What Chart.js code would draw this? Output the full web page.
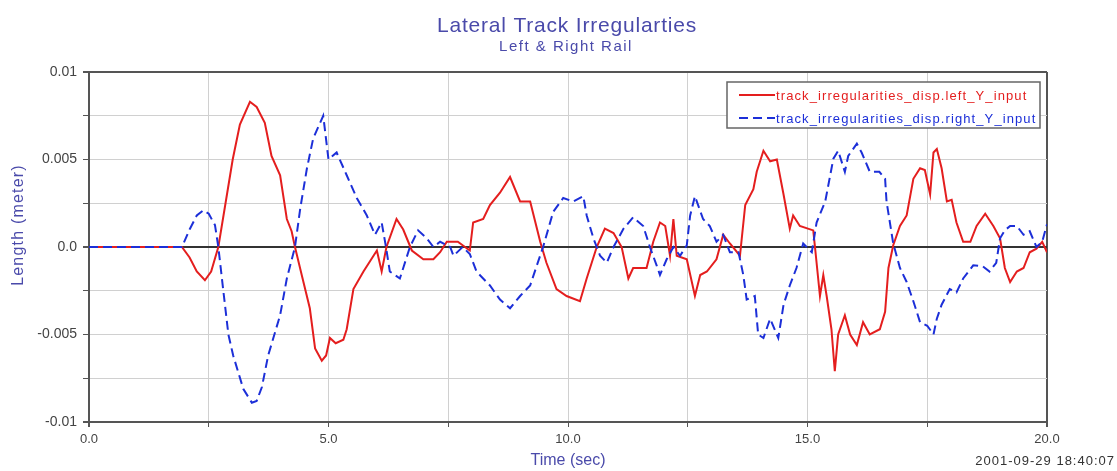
<!DOCTYPE html>
<html>
<head>
<meta charset="utf-8">
<script src="https://cdn.jsdelivr.net/npm/chart.js@4.4.1/dist/chart.umd.min.js"></script>
<style>
  html, body { margin: 0; padding: 0; background: #fff; }
  #wrap { width: 1117px; height: 471px; }
</style>
</head>
<body>
<div id="wrap"><canvas id="trackChart"></canvas></div>
<script>
// time (sec) / lateral displacement (meter)
const leftTime = [0, 1.94, 2.1, 2.25, 2.42, 2.55, 2.7, 2.85, 3.0, 3.15, 3.36, 3.5, 3.67, 3.81, 3.99, 4.13, 4.23, 4.3, 4.45, 4.61,
  4.72, 4.86, 4.95, 5.03, 5.15, 5.31, 5.38, 5.52, 5.73, 5.94, 6.01, 6.11, 6.21, 6.42, 6.56, 6.74, 6.98, 7.19, 7.33, 7.47,
  7.7, 7.95, 8.02, 8.23, 8.37, 8.58, 8.79, 9.0, 9.21, 9.42, 9.55, 9.76, 9.97, 10.25, 10.39, 10.6, 10.77, 10.95, 11.12, 11.26,
  11.36, 11.64, 11.78, 11.92, 12.03, 12.13, 12.2, 12.27, 12.48, 12.65, 12.76, 12.9, 13.1, 13.24, 13.38, 13.59, 13.7, 13.87, 13.94, 14.08,
  14.22, 14.36, 14.5, 14.63, 14.7, 14.84, 15.12, 15.16, 15.26, 15.33, 15.4, 15.5, 15.57, 15.64, 15.78, 15.89, 16.03, 16.16, 16.3, 16.51,
  16.62, 16.69, 16.79, 16.93, 17.07, 17.21, 17.35, 17.45, 17.56, 17.63, 17.7, 17.8, 17.91, 18.01, 18.11, 18.25, 18.4, 18.53, 18.71, 18.88,
  19.02, 19.12, 19.23, 19.37, 19.51, 19.64, 19.78, 19.9, 20.0];
const leftDisp = [0, 0, -0.0006, -0.0014, -0.0019, -0.0014, 0, 0.0025, 0.005, 0.007, 0.0083, 0.008, 0.0071, 0.0052, 0.0041, 0.0016, 0.0009, 0, -0.0017, -0.0035,
  -0.0058, -0.0065, -0.0062, -0.0052, -0.0055, -0.0053, -0.0047, -0.0024, -0.0014, -0.0005, -0.0002, -0.0014, 0, 0.0016, 0.001, -0.0002, -0.0007, -0.0007, -0.0003, 0.0003,
  0.0003, -0.0002, 0.0014, 0.0016, 0.0024, 0.0031, 0.004, 0.0026, 0.0026, 0.0003, -0.0009, -0.0024, -0.0028, -0.0031, -0.0018, 0, 0.00105, 0.0008, 0, -0.0018,
  -0.0012, -0.0012, 0.0003, 0.0014, 0.0012, -0.0005, 0.0016, -0.0005, -0.0007, -0.0028, -0.0016, -0.0014, -0.0007, 0.0007, 0.0002, -0.0005, 0.0024, 0.0033, 0.0043, 0.0055,
  0.0049, 0.005, 0.003, 0.00105, 0.0018, 0.0012, 0.00095, -0.0001, -0.0028, -0.0016, -0.0028, -0.0047, -0.0071, -0.005, -0.0039, -0.005, -0.0056, -0.0043, -0.005, -0.0047,
  -0.0037, -0.0012, 0.0001, 0.0012, 0.0018, 0.0039, 0.0045, 0.0044, 0.003, 0.0054, 0.0056, 0.0045, 0.0026, 0.0027, 0.0014, 0.0003, 0.0003, 0.0012, 0.0019, 0.0012,
  0.0005, -0.0012, -0.002, -0.0014, -0.0012, -0.0003, -0.0001, 0.0003, -0.0003];

const rightTime = [0, 1.94, 2.1, 2.25, 2.39, 2.5, 2.63, 2.7, 2.8, 2.91, 3.01, 3.22, 3.4, 3.5, 3.61, 3.74, 3.99, 4.13, 4.3, 4.41,
  4.55, 4.68, 4.89, 5.0, 5.17, 5.38, 5.59, 5.8, 5.97, 6.11, 6.2, 6.28, 6.49, 6.7, 6.87, 7.05, 7.19, 7.33, 7.54, 7.61,
  7.8, 7.95, 8.09, 8.37, 8.58, 8.79, 9.0, 9.21, 9.35, 9.48, 9.69, 9.9, 10.11, 10.32, 10.39, 10.53, 10.67, 10.81, 10.95, 11.16,
  11.36, 11.57, 11.71, 11.85, 11.92, 12.06, 12.2, 12.34, 12.48, 12.55, 12.65, 12.82, 12.96, 13.1, 13.24, 13.38, 13.56, 13.66, 13.73, 13.9,
  13.97, 14.08, 14.22, 14.39, 14.5, 14.63, 14.77, 14.91, 15.09, 15.19, 15.37, 15.54, 15.64, 15.78, 15.85, 16.03, 16.13, 16.3, 16.5, 16.62,
  16.65, 16.79, 16.93, 17.07, 17.21, 17.35, 17.5, 17.63, 17.7, 17.8, 17.97, 18.11, 18.25, 18.46, 18.66, 18.8, 18.94, 19.02, 19.12, 19.23,
  19.37, 19.51, 19.64, 19.78, 19.9, 20.0];
const rightDisp = [0, 0, 0.001, 0.0018, 0.0021, 0.0019, 0.00125, 0, -0.0024, -0.005, -0.0062, -0.0081, -0.0089, -0.0088, -0.008, -0.0062, -0.0039, -0.0018, 0, 0.0022,
  0.0045, 0.0062, 0.0075, 0.005, 0.0054, 0.0041, 0.0028, 0.0018, 0.0007, 0.0014, 0, -0.0014, -0.0018, 0, 0.00095, 0.0005, 0, 0.0003, 0, -0.0005,
  0, -0.0004, -0.0014, -0.0022, -0.003, -0.0035, -0.0028, -0.0022, -0.00105, 0, 0.002, 0.0028, 0.0026, 0.0029, 0.0018, 0.0005, -0.0005, -0.0009, 0, 0.00105,
  0.0017, 0.0012, 0, -0.00105, -0.0016, -0.0007, 0, -0.0005, 0.0001, 0.0018, 0.0029, 0.0016, 0.0012, 0.0003, 0.0007, -0.0003, -0.0003, -0.0016, -0.003, -0.0028,
  -0.005, -0.0052, -0.0041, -0.0052, -0.0033, -0.0022, -0.0012, 0.0002, -0.0003, 0.0014, 0.0026, 0.00505, 0.0055, 0.0043, 0.0052, 0.0059, 0.0054, 0.0043, 0.0043, 0.0039,
  0.0026, 0.0002, -0.0012, -0.002, -0.0031, -0.0043, -0.0045, -0.005, -0.0041, -0.0033, -0.0024, -0.0026, -0.0018, -0.00105, -0.0011, -0.0014, -0.0009, 0.0005, 0.00095, 0.0012,
  0.0012, 0.0007, 0.0009, 0, 0.0003, 0.0013];

const xTickLabels = ['0.0', '5.0', '10.0', '15.0', '20.0'];
const yTickLabels = {'0.01': '0.01', '0.005': '0.005', '0': '0.0', '-0.005': '-0.005', '-0.01': '-0.01'};

const chartTitle = 'Lateral Track Irregularties';
const chartSubtitle = 'Left & Right Rail';
const yAxisTitle = 'Length (meter)';
const stamp = '2001-09-29 18:40:07';

function toPoints(ts, vs) {
  return ts.map(function (t, i) { return {x: t, y: vs[i]}; });
}

const FONT = "'Liberation Sans', Arial, sans-serif";
const TITLE_BLUE = '#4a4aaa';
const FRAME = '#555555';

function putText(ctx, txt, x, y, font, color, spacing, align, baseline) {
  ctx.font = font;
  ctx.fillStyle = color;
  ctx.letterSpacing = spacing + 'px';
  ctx.textAlign = align;
  ctx.textBaseline = baseline;
  ctx.fillText(txt, x, y);
  ctx.letterSpacing = '0px';
}

// titles, legend box inside the plot, time stamp bottom right
const extras = {
  id: 'extras',
  afterDraw: function (chart) {
    const ctx = chart.ctx;
    const ds = chart.data.datasets;
    const area = chart.chartArea;
    const cx = (area.left + area.right) / 2;
    ctx.save();
    putText(ctx, chartTitle, cx - 1, 32, '21px ' + FONT, TITLE_BLUE, 0.8, 'center', 'alphabetic');
    putText(ctx, chartSubtitle, cx - 2, 51, '15px ' + FONT, TITLE_BLUE, 1.5, 'center', 'alphabetic');

    ctx.save();
    ctx.translate(19, 225);
    ctx.rotate(-Math.PI / 2);
    putText(ctx, yAxisTitle, 0, 0, '16px ' + FONT, TITLE_BLUE, 1.2, 'center', 'middle');
    ctx.restore();

    const bx = 727, by = 82, bw = 313, bh = 46;
    ctx.fillStyle = '#fff';
    ctx.fillRect(bx, by, bw, bh);
    ctx.strokeStyle = '#666';
    ctx.lineWidth = 1.5;
    ctx.strokeRect(bx, by, bw, bh);
    ds.forEach(function (d, i) {
      const y = by + 13 + i * 23;
      ctx.strokeStyle = d.borderColor;
      ctx.lineWidth = 2;
      ctx.setLineDash(d.borderDash || []);
      ctx.beginPath();
      ctx.moveTo(bx + 12, y);
      ctx.lineTo(bx + 48, y);
      ctx.stroke();
      ctx.setLineDash([]);
      putText(ctx, d.label, bx + 49, y + 1, '13px ' + FONT, d.borderColor, 1.1, 'left', 'middle');
    });

    putText(ctx, stamp, 1115, 465, '13px ' + FONT, '#333', 1.0, 'right', 'alphabetic');
    ctx.restore();
  }
};

const ctx = document.getElementById('trackChart').getContext('2d');
new Chart(ctx, {
  type: 'line',
  data: {
    datasets: [{
      label: 'track_irregularities_disp.left_Y_input',
      data: toPoints(leftTime, leftDisp),
      borderColor: '#e41e1e',
      borderWidth: 2,
      pointRadius: 0,
      tension: 0,
      order: 2
    }, {
      label: 'track_irregularities_disp.right_Y_input',
      data: toPoints(rightTime, rightDisp),
      borderColor: '#1c2fd8',
      borderWidth: 2,
      borderDash: [9, 5],
      pointRadius: 0,
      tension: 0,
      order: 1
    }]
  },
  options: {
    responsive: true,
    maintainAspectRatio: false,
    animation: false,
    layout: { padding: { left: 0, right: 70, top: 72, bottom: 0 } },
    plugins: {
      legend: { display: false },
      tooltip: { enabled: false },
      title: { display: false }
    },
    scales: {
      x: {
        type: 'linear',
        min: 0,
        max: 20,
        afterFit: function (scale) { scale.height = 49; },
        ticks: {
          stepSize: 2.5,
          color: '#444',
          font: { family: FONT, size: 13 },
          padding: 5,
          maxRotation: 0,
          callback: function (v) {
            const i = xTickLabels.indexOf(v.toFixed(1));
            return (v % 5 === 0 && i >= 0) ? xTickLabels[i] : '';
          }
        },
        grid: {
          color: function (c) {
            const v = c.tick ? c.tick.value : null;
            return (v === 0 || v === 20) ? FRAME : '#d0d0d0';
          },
          lineWidth: function (c) {
            const v = c.tick ? c.tick.value : null;
            return (v === 0 || v === 20) ? 2 : 1;
          },
          tickColor: FRAME,
          tickLength: 5
        },
        border: { color: FRAME, width: 2 },
        title: {
          display: true,
          text: 'Time (sec)',
          color: TITLE_BLUE,
          font: { family: FONT, size: 16 },
          padding: { top: 0, bottom: 1 }
        }
      },
      y: {
        min: -0.01,
        max: 0.01,
        afterFit: function (scale) { scale.width = 89; },
        ticks: {
          stepSize: 0.0025,
          color: '#444',
          font: { family: FONT, size: 14 },
          padding: 6,
          callback: function (v) {
            const key = String(Math.round(v * 10000) / 10000);
            return yTickLabels[key] !== undefined ? yTickLabels[key] : '';
          }
        },
        grid: {
          color: function (c) {
            const v = c.tick ? Math.round(c.tick.value * 10000) : null;
            if (v === 0) return '#333';
            return (v === 100 || v === -100) ? FRAME : '#d0d0d0';
          },
          lineWidth: function (c) {
            const v = c.tick ? Math.round(c.tick.value * 10000) : null;
            return (v === 0 || v === 100 || v === -100) ? 2 : 1;
          },
          tickColor: FRAME,
          tickLength: 6
        },
        border: { color: FRAME, width: 2 }
      }
    }
  },
  plugins: [extras]
});
</script>
</body>
</html>
